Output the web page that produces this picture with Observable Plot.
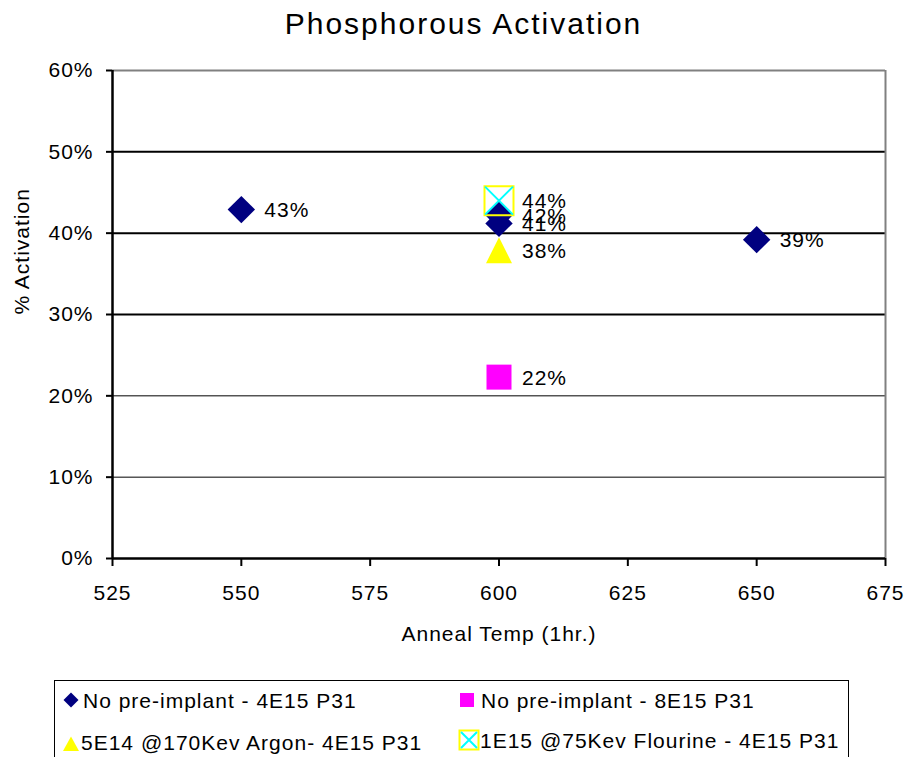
<!DOCTYPE html>
<html><head><meta charset="utf-8">
<script src="https://cdn.jsdelivr.net/npm/d3@7"></script>
<script src="https://cdn.jsdelivr.net/npm/@observablehq/plot@0.6"></script>
<style>
body{margin:0;background:#fff;}
#wrap{position:relative;width:909px;height:757px;overflow:hidden;font-family:"Liberation Sans",Arial,sans-serif;color:#000;}
#title{position:absolute;left:9px;width:909px;top:9px;text-align:center;font-size:30px;line-height:30px;letter-spacing:2px;}
#chart{position:absolute;left:0;top:0;}
#chart svg text{font-family:"Liberation Sans",Arial,sans-serif;letter-spacing:1px;}
#legend{position:absolute;left:54px;top:680px;width:795px;height:100px;border:1.5px solid #000;box-sizing:border-box;}
.item{position:absolute;font-size:21px;line-height:21px;letter-spacing:1px;white-space:nowrap;}
.item svg{position:absolute;overflow:visible;}
</style>
</head><body>
<div id="wrap">
  <div id="title"></div>
  <div id="chart"></div>
  <div id="legend"></div>
</div>
<script>
// ---- data ----
const chartTitle = "Phosphorous Activation";
const xLabel = "Anneal Temp (1hr.)";
const yLabel = "% Activation";
const seriesNames = [
  "No pre-implant - 4E15 P31",
  "No pre-implant - 8E15 P31",
  "5E14 @170Kev Argon- 4E15 P31",
  "1E15 @75Kev Flourine - 4E15 P31"
];
const temps1 = [550, 600, 600, 650];
const act1   = [0.429, 0.422, 0.412, 0.392];
const temps2 = [600];
const act2   = [0.223];
const temps3 = [600];
const act3   = [0.379];
const temps4 = [600];
const act4   = [0.44];
const xTicks = [525, 550, 575, 600, 625, 650, 675];
const yTicks = [0, 0.1, 0.2, 0.3, 0.4, 0.5, 0.6];

// ---- marker shapes ----
const rad = size => Math.sqrt(size / Math.PI);
const diamondSym = {draw(c, s){const r = rad(s); c.moveTo(0,-r); c.lineTo(r,0); c.lineTo(0,r); c.lineTo(-r,0); c.closePath();}};
const squareSym = {draw(c, s){const r = rad(s); c.rect(-r,-r,2*r,2*r);}};
const triangleSym = {draw(c, s){const r = rad(s); c.moveTo(0,-r); c.lineTo(r,r); c.lineTo(-r,r); c.closePath();}};
const xSym = {draw(c, s){const r = rad(s); c.moveTo(-r,-r); c.lineTo(r,r); c.moveTo(r,-r); c.lineTo(-r,r);}};

const mk = (xs, ys, si) => xs.map((x, i) => ({temp: x, act: ys[i], series: seriesNames[si]}));
const s1 = mk(temps1, act1, 0), s2 = mk(temps2, act2, 1), s3 = mk(temps3, act3, 2), s4 = mk(temps4, act4, 3);
const all = [...s1, ...s2, ...s3, ...s4];
const pct = v => Math.round(v * 100) + "%";

document.getElementById("title").textContent = chartTitle;

const plot = Plot.plot({
  width: 909,
  height: 660,
  marginLeft: 112,
  marginRight: 24,
  marginTop: 70,
  marginBottom: 102,
  style: {fontSize: "21px", fontFamily: "Liberation Sans, Arial, sans-serif", color: "#000", background: "transparent"},
  x: {domain: [525, 675], axis: null},
  y: {domain: [0, 0.6], axis: null},
  marks: [
    Plot.ruleY(yTicks.filter(d => d > 0 && d < 0.6), {stroke: "#000", strokeWidth: d => (d >= 0.3 ? 2 : 1)}),
    Plot.ruleY([0.6], {stroke: "#808080", strokeWidth: 2}),
    Plot.ruleX([675], {stroke: "#808080", strokeWidth: 2}),
    Plot.axisY({ticks: yTicks, label: null, tickSize: 6, tickPadding: 13, tickFormat: pct, strokeWidth: 2, fontSize: 21}),
    Plot.axisX({ticks: xTicks, label: null, tickSize: 8, tickPadding: 19, tickFormat: d => String(d), strokeWidth: 2, fontSize: 21}),
    Plot.ruleY([0], {stroke: "#000", strokeWidth: 2.5}),
    Plot.ruleX([525], {stroke: "#000", strokeWidth: 2.5}),
    Plot.text([xLabel], {frameAnchor: "bottom", dy: 82, text: d => d, fontSize: 21}),
    Plot.text([yLabel], {frameAnchor: "left", dx: -90, rotate: -90, text: d => d, fontSize: 21}),
    Plot.dot(s1, {x: "temp", y: "act", symbol: diamondSym, r: 13.7, fill: "#000080", stroke: "none"}),
    Plot.dot(s2, {x: "temp", y: "act", symbol: squareSym, r: 12.5, fill: "#FF00FF", stroke: "none"}),
    Plot.dot(s3, {x: "temp", y: "act", symbol: triangleSym, r: 13, fill: "#FFFF00", stroke: "none"}),
    Plot.dot(s4, {x: "temp", y: "act", symbol: squareSym, r: 14.5, fill: "none", stroke: "#FFFF00", strokeWidth: 2}),
    Plot.dot(s4, {x: "temp", y: "act", symbol: xSym, r: 14, fill: "none", stroke: "#00FFFF", strokeWidth: 2}),
    Plot.text(all, {x: "temp", y: "act", text: d => pct(d.act), textAnchor: "start", dx: 23, dy: 1, fontSize: 21, fill: "#000"})
  ]
});
document.getElementById("chart").appendChild(plot);

// ---- legend ----
const legendMarkers = [
  '<path d="M0,-7.5L7.5,0L0,7.5L-7.5,0Z" fill="#000080"/>',
  '<rect x="-7" y="-7" width="14" height="14" fill="#FF00FF"/>',
  '<path d="M0,-7.5L8,7L-8,7Z" fill="#FFFF00"/>',
  '<rect x="-9.5" y="-9.5" width="19" height="19" fill="none" stroke="#FFFF00" stroke-width="2"/><path d="M-8,-8L8,8M8,-8L-8,8" stroke="#00FFFF" stroke-width="2"/>'
];
// legend layout: [markerX, markerY, textLeft, textTop] relative to legend box
const legendPos = [[16, 19, 28, 9], [412, 19, 426, 9], [16, 63, 26, 51], [414, 59, 425, 49]];
const leg = document.getElementById("legend");
seriesNames.forEach((name, i) => {
  const [mx, my, tx, ty] = legendPos[i];
  const m = document.createElementNS("http://www.w3.org/2000/svg", "svg");
  m.setAttribute("width", 1); m.setAttribute("height", 1);
  m.style.left = mx + "px"; m.style.top = my + "px";
  m.style.position = "absolute"; m.style.overflow = "visible";
  m.innerHTML = legendMarkers[i];
  leg.appendChild(m);
  const t = document.createElement("div");
  t.className = "item";
  t.style.left = tx + "px"; t.style.top = ty + "px";
  t.textContent = name;
  leg.appendChild(t);
});
</script>
</body></html>
